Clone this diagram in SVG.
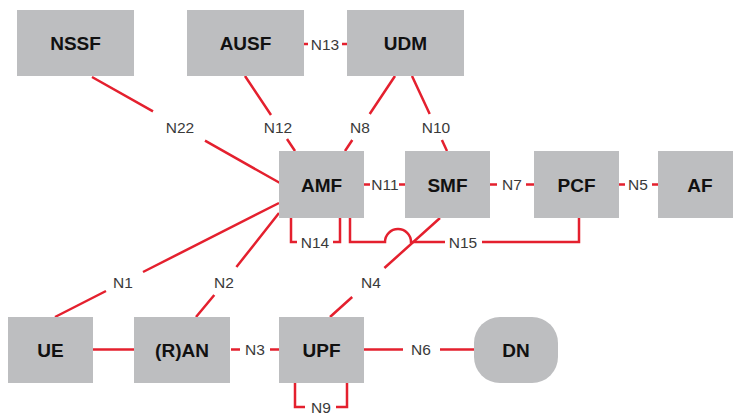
<svg xmlns="http://www.w3.org/2000/svg" width="733" height="415" viewBox="0 0 733 415">
<style>
.n{fill:#bdbec0}
.t{font-family:"Liberation Sans",Arial,sans-serif;font-weight:bold;font-size:19px;fill:#111;text-anchor:middle}
.c{fill:none;stroke:#e4202e;stroke-width:2.5}
.l{font-family:"Liberation Sans",Arial,sans-serif;font-size:15.5px;fill:#3a3a3a;text-anchor:middle}
</style>
<rect width="733" height="415" fill="#fff"/>
<g id="connectors">
<path class="c" d="M92 77L153 111.4M205 140.7L280 183"/>
<path class="c" d="M245 76L271 115M287 139L295 151"/>
<path class="c" d="M395 76L369.7 114M352.3 140L345 151"/>
<path class="c" d="M412 76L429.7 114M441.9 140L447 151"/>
<path class="c" d="M304 44H308M342 44H347"/>
<path class="c" d="M364 184.5H370M399 184.5H405"/>
<path class="c" d="M490 184.5H497M526 184.5H534"/>
<path class="c" d="M619 184.5H625M652 184.5H658"/>
<path class="c" d="M279 203L143 272M106 291L55 317"/>
<path class="c" d="M279 213L236.4 267M214.3 295L196 317"/>
<path class="c" d="M440 218L384.4 268M352.2 297L330 317"/>
<path class="c" d="M291 218V242H297M333 242H340V218"/>
<path class="c" d="M350 218V242H385A13 13 0 0 1 411 242H445M482 242H579V218"/>
<path class="c" d="M93 349.5H134"/>
<path class="c" d="M231 349.5H240M270 349.5H279"/>
<path class="c" d="M364 349.5H403M440 349.5H474"/>
<path class="c" d="M295 383V407H305M336 407H347V383"/>
<text class="l" x="180" y="132.5">N22</text>
<text class="l" x="278" y="132.5">N12</text>
<text class="l" x="360" y="132.5">N8</text>
<text class="l" x="436" y="132.5">N10</text>
<text class="l" x="325" y="49.5">N13</text>
<text class="l" x="385" y="190">N11</text>
<text class="l" x="512" y="190">N7</text>
<text class="l" x="638" y="190">N5</text>
<text class="l" x="123" y="288">N1</text>
<text class="l" x="224" y="288">N2</text>
<text class="l" x="371" y="288">N4</text>
<text class="l" x="315" y="247.5">N14</text>
<text class="l" x="463" y="247.5">N15</text>
<text class="l" x="255" y="355">N3</text>
<text class="l" x="421" y="355">N6</text>
<text class="l" x="321" y="412.5">N9</text>
</g>
<g id="NSSF"><rect class="n" x="17" y="10" width="117" height="66"/><text class="t" x="75.5" y="50">NSSF</text></g>
<g id="AUSF"><rect class="n" x="187" y="10" width="117" height="66"/><text class="t" x="245.5" y="50">AUSF</text></g>
<g id="UDM"><rect class="n" x="347" y="10" width="117" height="66"/><text class="t" x="405.5" y="50">UDM</text></g>
<g id="AMF"><rect class="n" x="279" y="151" width="85" height="67"/><text class="t" x="321.5" y="191.5">AMF</text></g>
<g id="SMF"><rect class="n" x="405" y="151" width="85" height="67"/><text class="t" x="447.5" y="191.5">SMF</text></g>
<g id="PCF"><rect class="n" x="534" y="151" width="85" height="67"/><text class="t" x="576.5" y="191.5">PCF</text></g>
<g id="AF"><rect class="n" x="658" y="151" width="85" height="67"/><text class="t" x="700" y="191.5">AF</text></g>
<g id="UE"><rect class="n" x="8" y="317" width="85" height="66"/><text class="t" x="50.5" y="356.5">UE</text></g>
<g id="RAN"><rect class="n" x="134" y="317" width="96" height="66"/><text class="t" x="182" y="356.5">(R)AN</text></g>
<g id="UPF"><rect class="n" x="279" y="317" width="85" height="66"/><text class="t" x="321.5" y="356.5">UPF</text></g>
<g id="DN"><rect class="n" x="474" y="317" width="84" height="66" rx="26"/><text class="t" x="516" y="356.5">DN</text></g>
</svg>
